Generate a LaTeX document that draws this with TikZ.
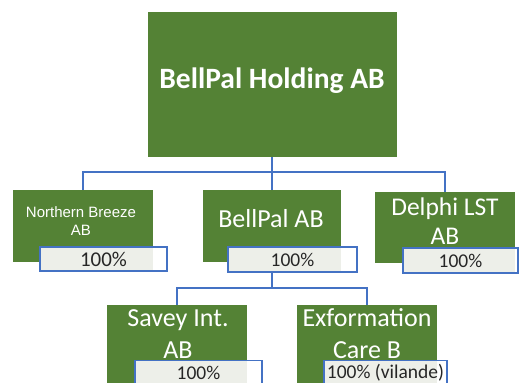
\documentclass[tikz,border=0pt]{standalone}
\usepackage{fontspec}
\setmainfont{Carlito}
\newfontfamily\arialfont{Liberation Sans}
\definecolor{boxgreen}{HTML}{548235}
\definecolor{lineblue}{HTML}{4472C4}
\definecolor{labgrey}{HTML}{EDEFE9}
\definecolor{labtext}{HTML}{262626}
\begin{document}
\begin{tikzpicture}[x=1pt, y=-1pt,
		box/.style={fill=boxgreen, inner sep=0pt},
		boxtext/.style={text=white, align=center, inner sep=0pt},
		conn/.style={draw=lineblue, line width=1.3pt},
		lab/.style={draw=lineblue, line width=1.2pt, fill=white, inner sep=0pt,
			text=labtext, font=\fontsize{19.5}{21}\selectfont,
			path picture={\fill[labgrey] (path picture bounding box.south west) rectangle (#1.north east);}}]
		\useasboundingbox (0,0) rectangle (520,383);

		\node[box, minimum width=249pt, minimum height=145pt] (top) at (272,84.5) {};
		\node[box, minimum width=140pt, minimum height=72pt] (nb) at (83,226) {};
		\node[box, minimum width=138pt, minimum height=72pt] (bp) at (272,226) {};
		\node[box, minimum width=140pt, minimum height=71pt] (dl) at (445,227.5) {};
		\node[box, minimum width=140pt, minimum height=80pt] (sv) at (177,345) {};
		\node[box, minimum width=140pt, minimum height=80pt] (ex) at (367,345) {};

		\node[boxtext, font=\bfseries\fontsize{29.5}{34}\selectfont] (toptxt) at (272,81) {BellPal Holding AB};
		\node[boxtext, font=\arialfont\fontsize{15}{18}\selectfont] (nbtxt) at (81,221) {Northern Breeze\\AB};
		\node[boxtext, font=\fontsize{26}{32}\selectfont] (bptxt) at (271,219) {BellPal AB};
		\node[boxtext, font=\fontsize{25.5}{29}\selectfont] (dltxt) at (445,221.5) {Delphi LST\\AB};
		\node[boxtext, font=\fontsize{26}{32}\selectfont] (svtxt) at (178,334.5) {Savey Int.\\AB};
		\node[boxtext, font=\fontsize{26}{32}\selectfont] (extxt) at (367,334) {Exformation\\Care B};

		\coordinate (bus) at (272,172);
		\coordinate (bus2) at (272,288);
		\draw[conn] (top.south) -- (bp.north);
		\draw[conn] (nb.north) |- (bus) -| (dl.north);
		\draw[conn] (bp.south) -- (bus2);
		\draw[conn] (sv.north) |- (bus2) -| (ex.north);

		\node[lab=nb, minimum width=127pt, minimum height=24pt, font=\fontsize{21}{24}\selectfont] (nblab) at (103.5,259) {100\%};
		\node[lab=bp, minimum width=129pt, minimum height=25pt] (bplab) at (292.5,259.5) {100\%};
		\node[lab=dl, minimum width=115pt, minimum height=25pt] (dllab) at (460.5,260.5) {100\%};
		\node[lab=sv, minimum width=127pt, minimum height=24pt] (svlab) at (198.5,372.5) {100\%};
		\node[lab=ex, minimum width=123pt, minimum height=24pt] (exlab) at (385.5,372.5) {100\% (vilande)};
	\end{tikzpicture}
\end{document}
